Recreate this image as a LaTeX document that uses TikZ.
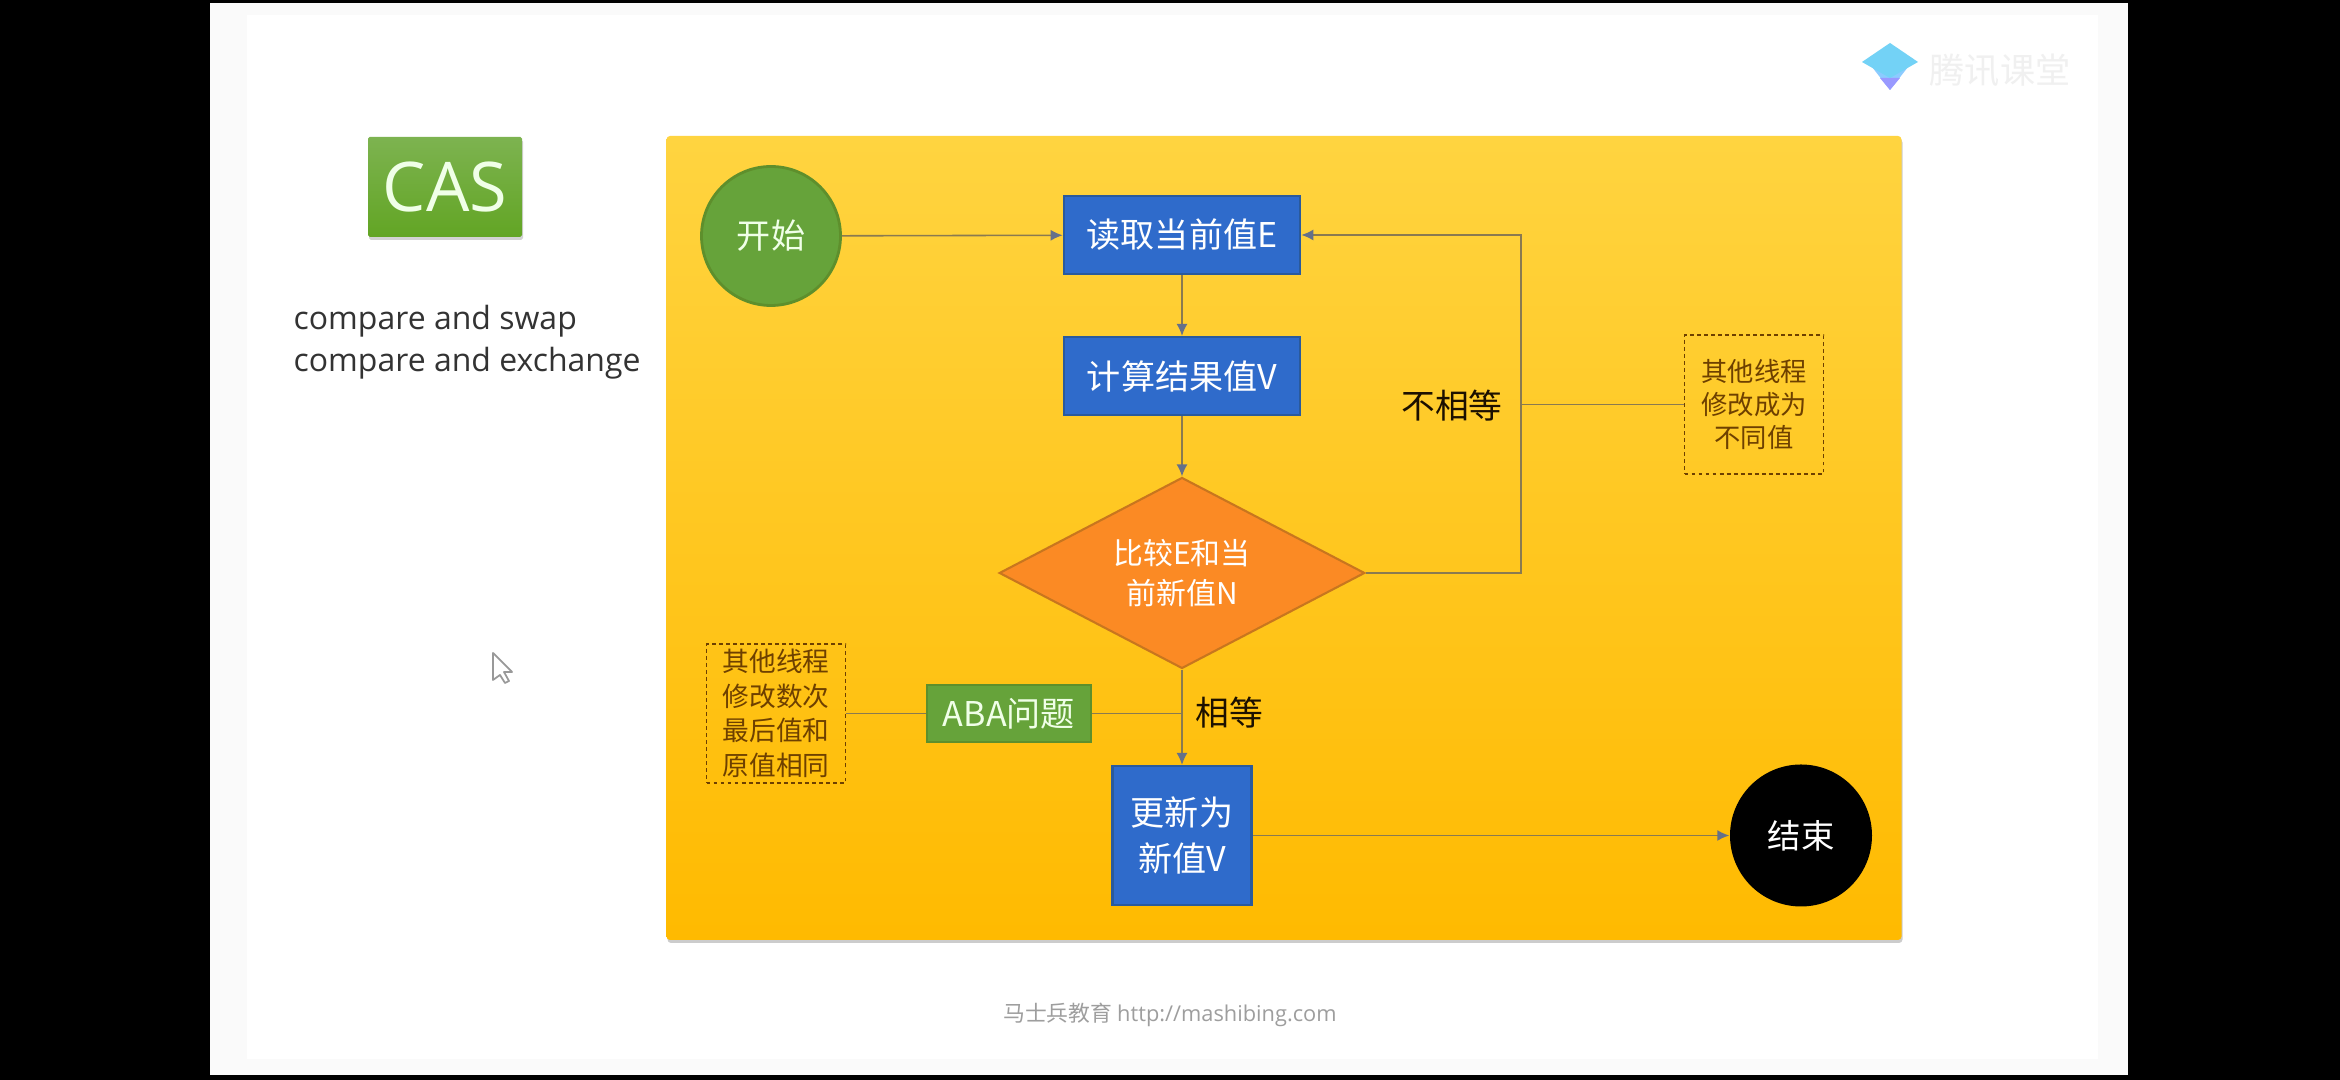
\documentclass[tikz,border=0pt]{standalone}
\usepackage{fontspec}
\usepackage{xcolor}
\setmainfont{Noto Sans CJK SC}
\newfontfamily\latinfont{Open Sans}
\usetikzlibrary{shapes.geometric, arrows.meta, shadows}

\definecolor{boxblue}{HTML}{2F6BCB}
\definecolor{boxedge}{HTML}{2A5A9C}
\definecolor{leafgreen}{HTML}{66A33A}
\definecolor{leafedge}{HTML}{5E8F2C}
\definecolor{rhombfill}{HTML}{FB8A24}
\definecolor{rhombedge}{HTML}{C8761E}
\definecolor{noteink}{HTML}{6E4000}
\definecolor{lineink}{HTML}{8A7A50}
\definecolor{tipink}{HTML}{64708A}
\definecolor{paleink}{HTML}{F0FFE8}
\definecolor{paneltop}{HTML}{FFD440}
\definecolor{panelmid}{HTML}{FFCC08}
\definecolor{panelbot}{HTML}{FFBA00}
\definecolor{castop}{HTML}{7DB350}
\definecolor{casbot}{HTML}{62A524}

\tikzset{
    stepbox/.style={draw=boxedge, fill=boxblue, text=white, inner sep=0pt, line width=0.6pt, font=\fontsize{9.7}{14}\selectfont, align=center},
    leafbox/.style={draw=leafedge, fill=leafgreen, text=paleink, inner sep=0pt, line width=0.6pt, font=\fontsize{9.7}{14}\selectfont, align=center},
    notebox/.style={draw=noteink, dash pattern=on 1.1pt off 0.9pt, text=noteink, inner sep=0pt, line width=0.5pt, minimum width=1.39cm, minimum height=1.39cm, font=\fontsize{7.6}{9.8}\selectfont, align=center},
    branchlabel/.style={text=black!75!noteink, font=\fontsize{9.6}{12}\selectfont},
    flowline/.style={draw=lineink, line width=0.45pt, -{Latex[length=1.2mm, width=1.1mm, color=tipink]}},
    plainline/.style={draw=lineink, line width=0.45pt}
}

\begin{document}
\begin{tikzpicture}
        \useasboundingbox (0,0) rectangle (23.4,10.8);

        % Screen and slide
        \fill[black] (0,0) rectangle (23.4,10.8);
        \fill[black!2] (2.10,0.05) rectangle (21.28,10.77);
        \fill[white] (2.47,0.21) rectangle (20.98,10.65);

        % Left column
        \node (cas) at (4.45, 8.93) [rectangle, top color=castop, bottom color=casbot, rounded corners=0.5pt, text=paleink, minimum width=1.54cm, minimum height=1cm, inner sep=0pt, drop shadow={shadow xshift=0.01cm, shadow yshift=-0.03cm, opacity=0.35}, font=\latinfont\fontsize{19.5}{20}\selectfont] {CAS};
        \node (casname) at (2.93, 7.38) [anchor=west, inner sep=0pt, align=left, text=black!80, font=\latinfont\fontsize{9.1}{12}\selectfont] {compare and swap\\compare and exchange};

        % Yellow panel
        \node (panel) at (12.84, 5.42) [rectangle, minimum width=12.35cm, minimum height=8.04cm, inner sep=0pt, rounded corners=1pt, top color=paneltop, middle color=panelmid, bottom color=panelbot, drop shadow={shadow xshift=0.01cm, shadow yshift=-0.03cm, opacity=0.4}] {};

        % Main flow
        \node (start) at (7.71, 8.44) [circle, draw=leafedge, fill=leafgreen, text=paleink, minimum size=1.39cm, inner sep=0pt, line width=0.8pt, font=\fontsize{9.7}{12}\selectfont] {开始};
        \node (readval) at (11.82, 8.45) [stepbox, minimum width=2.365cm, minimum height=0.78cm] {读取当前值E};
        \node (calcval) at (11.82, 7.04) [stepbox, minimum width=2.365cm, minimum height=0.78cm] {计算结果值V};
        \node (compare) at (11.82, 5.07) [diamond, shape aspect=1.914, draw=rhombedge, fill=rhombfill, text=white, minimum width=3.655cm, minimum height=1.91cm, inner sep=0pt, line width=0.6pt, align=center, font=\fontsize{8.5}{11.2}\selectfont] {比较E和当\\前新值N};
        \node (update) at (11.82, 2.445) [stepbox, minimum width=1.39cm, minimum height=1.39cm, font=\fontsize{9.7}{13}\selectfont] {更新为\\新值V};
        \node (finish) at (18.01, 2.445) [circle, fill=black, text=white, minimum size=1.42cm, inner sep=0pt, font=\fontsize{9.5}{12}\selectfont] {结束};

        % Side notes
        \node (aba) at (10.09, 3.665) [leafbox, minimum width=1.635cm, minimum height=0.57cm] {ABA问题};
        \node (abanote) at (7.76, 3.665) [notebox] {其他线程\\修改数次\\最后值和\\原值相同};
        \node (diffnote) at (17.54, 6.755) [notebox, font=\fontsize{7.5}{9.4}\selectfont] {其他线程\\修改成为\\不同值};
        \node (noteq) at (14.52, 6.74) [branchlabel] {不相等};
        \node (eq) at (12.29, 3.67) [branchlabel] {相等};

        % Helper points on the lines
        \coordinate (loopcorner) at (15.21, 8.45);
        \coordinate (loopmid) at (15.21, 6.755);
        \coordinate (abajoin) at (11.82, 3.665);

        % Connectors
        \draw[flowline] (start) -- (readval);
        \draw[flowline] (readval) -- (calcval);
        \draw[flowline] (calcval) -- (compare);
        \draw[flowline] (compare) -- (update);
        \draw[flowline] (update) -- (finish);
        \draw[flowline] (compare.east) -| (loopcorner) -- (readval.east);
        \draw[plainline] (loopmid) -- (diffnote);
        \draw[plainline] (aba) -- (abajoin);
        \draw[plainline] (abanote) -- (aba);

        % Footer
        \node (footer) at (11.70, 0.65) [text=black!38, inner sep=0pt, font=\fontsize{6.2}{8}\selectfont] {马士兵教育 {\latinfont http://mashibing.com}};

        % Logo and watermark
        \fill[blue!45!cyan!45!white] (18.72,10.13) -- (18.90,9.90) -- (19.08,10.13) -- cycle;
        \fill[blue!40!white] (18.80,10.02) -- (18.90,9.90) -- (19.00,10.02) -- cycle;
        \fill[cyan!55!white] (18.62,10.18) -- (18.90,10.37) -- (19.18,10.18) -- (18.90,10.02) -- cycle;
        \node (mark) at (20.00, 10.10) [text=black!6, inner sep=0pt, font=\fontsize{10}{12}\selectfont] {腾讯课堂};

        % Mouse pointer
        \draw[black!40, fill=white, line width=0.5pt, line join=round] (4.93,4.27) -- (4.93,4.00) -- (5.00,4.05) -- (5.05,3.97) -- (5.09,3.99) -- (5.04,4.08) -- (5.12,4.08) -- cycle;
    \end{tikzpicture}
\end{document}
